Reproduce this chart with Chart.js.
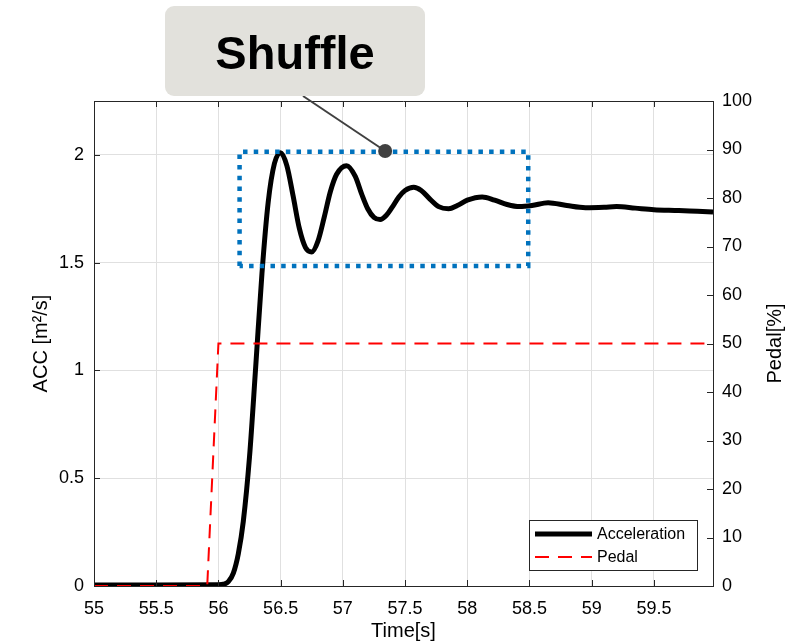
<!DOCTYPE html>
<html><head><meta charset="utf-8">
<script src="https://cdn.jsdelivr.net/npm/chart.js@4.4.1/dist/chart.umd.min.js"></script>
<style>html,body{margin:0;padding:0;background:#fff}#wrap{width:802px;height:644px}</style>
</head><body><div id="wrap"><canvas id="c" width="802" height="644"></canvas></div>
<script>
// ---- data ----
const accTime = [55, 55.5, 56.0, 56.04, 56.08, 56.12, 56.16, 56.2, 56.25, 56.3, 56.35, 56.4, 56.45, 56.5, 56.55, 56.6, 56.65, 56.7, 56.75, 56.8, 56.85, 56.9, 56.95, 57.03, 57.1, 57.15, 57.2, 57.25, 57.3, 57.35, 57.4, 57.45, 57.5, 57.57, 57.63, 57.7, 57.77, 57.85, 57.92, 58.0, 58.12, 58.22, 58.32, 58.42, 58.52, 58.65, 58.8, 58.95, 59.1, 59.2, 59.35, 59.5, 59.7, 59.85, 59.975];
const accValues = [0.005, 0.005, 0.006, 0.008, 0.02, 0.06, 0.15, 0.3, 0.6, 1.02, 1.45, 1.78, 1.96, 2.01, 1.95, 1.81, 1.66, 1.57, 1.55, 1.6, 1.71, 1.83, 1.91, 1.95, 1.9, 1.82, 1.75, 1.71, 1.70, 1.72, 1.76, 1.805, 1.835, 1.85, 1.835, 1.795, 1.76, 1.75, 1.765, 1.79, 1.805, 1.79, 1.77, 1.76, 1.765, 1.778, 1.765, 1.755, 1.757, 1.76, 1.753, 1.746, 1.742, 1.738, 1.735];
const pedalTime = [55, 55.91, 56.0, 59.975];
const pedalValues = [0, 0, 50, 50];
const xTicks = [55, 55.5, 56, 56.5, 57, 57.5, 58, 58.5, 59, 59.5];
const accTicks = [0, 0.5, 1, 1.5, 2];
const pedalTicks = [0, 10, 20, 30, 40, 50, 60, 70, 80, 90, 100];
const boxTime = [56.17, 56.17, 58.49, 58.49, 56.17];
const boxAcc = [1.485, 2.015, 2.015, 1.485, 1.485];
const calloutPoint = [57.34, 2.018];
const calloutText = 'Shuffle';
const seriesNames = ['Acceleration', 'Pedal'];
const xTitle = 'Time[s]';
const leftTitle = 'ACC [m²/s]';
const rightTitle = 'Pedal[%]';

const FONT = "'Liberation Sans', Arial, Helvetica, sans-serif";
Chart.defaults.font.family = FONT;
Chart.defaults.color = '#000';

const fmt = v => String(Number(v.toFixed(3)));
const setTicks = arr => s => { s.ticks = arr.map(v => ({value: v})); };

const axesPlugin = {
  id: 'axesExtras',
  afterDatasetsDraw(chart) {
    const {ctx, chartArea: a, scales} = chart;
    const x = scales.x, yL = scales.yL, yR = scales.yR;
    ctx.save();
    ctx.strokeStyle = '#262626';
    ctx.lineWidth = 1;
    ctx.beginPath();
    ctx.moveTo(a.left, Math.round(a.top) + 0.5); ctx.lineTo(a.right, Math.round(a.top) + 0.5);
    ctx.stroke();
    const T = 6;
    ctx.beginPath();
    x.ticks.forEach(t => {
      const px = Math.round(x.getPixelForValue(t.value)) + 0.5;
      ctx.moveTo(px, a.bottom); ctx.lineTo(px, a.bottom - T);
      ctx.moveTo(px, a.top); ctx.lineTo(px, a.top + T);
    });
    yL.ticks.forEach(t => {
      const py = Math.round(yL.getPixelForValue(t.value)) + 0.5;
      ctx.moveTo(a.left, py); ctx.lineTo(a.left + T, py);
    });
    yR.ticks.forEach(t => {
      const py = Math.round(yR.getPixelForValue(t.value)) + 0.5;
      ctx.moveTo(a.right, py); ctx.lineTo(a.right - T, py);
    });
    ctx.stroke();

    // right axis title (reads bottom to top)
    ctx.fillStyle = '#000';
    ctx.font = '20px ' + FONT;
    ctx.textAlign = 'center';
    ctx.textBaseline = 'middle';
    ctx.translate(775, (a.top + a.bottom) / 2);
    ctx.rotate(-Math.PI / 2);
    ctx.fillText(rightTitle, 0, 0);
    ctx.restore();

    // legend
    ctx.save();
    const lw = 168, lh = 50;
    const lx = a.right - 16 - lw, ly = a.bottom - 16 - lh;
    ctx.fillStyle = '#fff';
    ctx.fillRect(lx, ly, lw, lh);
    ctx.strokeStyle = '#262626';
    ctx.lineWidth = 1;
    ctx.strokeRect(Math.round(lx) + 0.5, Math.round(ly) + 0.5, lw, lh);
    const ds = chart.data.datasets;
    const rows = [ds[0], ds[1]];
    rows.forEach((d, i) => {
      const yy = ly + 14 + i * 23;
      ctx.beginPath();
      ctx.strokeStyle = d.borderColor;
      ctx.lineWidth = d.borderWidth;
      ctx.setLineDash(d.borderDash || []);
      ctx.moveTo(lx + 6, yy); ctx.lineTo(lx + 63, yy);
      ctx.stroke();
      ctx.setLineDash([]);
      ctx.fillStyle = '#000';
      ctx.font = '16px ' + FONT;
      ctx.textAlign = 'left';
      ctx.textBaseline = 'middle';
      ctx.fillText(d.label, lx + 68, yy + 1);
    });
    ctx.restore();

    // callout
    ctx.save();
    const cx = x.getPixelForValue(calloutPoint[0]);
    const cy = yL.getPixelForValue(calloutPoint[1]);
    const bx = 165, by = 6, bw = 260, bh = 90, r = 9;
    ctx.strokeStyle = '#404040';
    ctx.lineWidth = 2;
    ctx.beginPath();
    ctx.moveTo(303, by + bh); ctx.lineTo(cx, cy);
    ctx.stroke();
    ctx.fillStyle = '#404040';
    ctx.beginPath(); ctx.arc(cx, cy, 7, 0, Math.PI * 2); ctx.fill();
    ctx.fillStyle = '#E2E1DC';
    ctx.beginPath();
    ctx.roundRect(bx, by, bw, bh, r);
    ctx.fill();
    ctx.fillStyle = '#000';
    ctx.font = 'bold 47px ' + FONT;
    ctx.textAlign = 'center';
    ctx.textBaseline = 'alphabetic';
    ctx.fillText(calloutText, bx + bw / 2, 69);
    ctx.restore();
  }
};

new Chart(document.getElementById('c'), {
  type: 'line',
  data: {
    datasets: [
      {label: seriesNames[0], data: accTime.map((t, i) => ({x: t, y: accValues[i]})), yAxisID: 'yL',
       borderColor: '#000', borderWidth: 5, pointRadius: 0, cubicInterpolationMode: 'monotone', order: 2},
      {label: seriesNames[1], data: pedalTime.map((t, i) => ({x: t, y: pedalValues[i]})), yAxisID: 'yR',
       borderColor: '#FF0000', borderWidth: 2, borderDash: [14, 9], pointRadius: 0, tension: 0, order: 1},
      {label: 'box', data: boxTime.map((t, i) => ({x: t, y: boxAcc[i]})), yAxisID: 'yL',
       borderColor: '#0072BD', borderWidth: 4.5, borderDash: [4.5, 6.2], borderCapStyle: 'butt', pointRadius: 0, tension: 0, order: 0}
    ]
  },
  options: {
    responsive: false, animation: false, devicePixelRatio: 1,
    layout: {padding: {top: 101, left: 0, right: 0, bottom: 0}},
    plugins: {legend: {display: false}, tooltip: {enabled: false}},
    scales: {
      x: {
        type: 'linear', min: 55, max: 59.975,
        afterBuildTicks: setTicks(xTicks),
        afterFit: s => { s.height = 58; },
        grid: {color: '#e0e0e0', drawTicks: false},
        border: {color: '#262626', width: 1},
        ticks: {font: {size: 18}, color: '#000', padding: 12, callback: fmt, maxRotation: 0, autoSkip: false},
        title: {display: true, text: xTitle, font: {size: 20}, color: '#000', padding: {top: 0, bottom: 1}}
      },
      yL: {
        type: 'linear', position: 'left', min: 0, max: 2.25,
        afterBuildTicks: setTicks(accTicks),
        afterFit: s => { s.width = 94; },
        grid: {color: '#e0e0e0', drawTicks: false},
        border: {color: '#262626', width: 1},
        ticks: {font: {size: 18}, color: '#000', padding: 10, callback: fmt},
        title: {display: true, text: leftTitle, font: {size: 20}, color: '#000', padding: {top: 29, bottom: 0}}
      },
      yR: {
        type: 'linear', position: 'right', min: 0, max: 100,
        afterBuildTicks: setTicks(pedalTicks),
        afterFit: s => { s.width = 89; },
        grid: {display: false, drawTicks: false},
        border: {color: '#262626', width: 1},
        ticks: {font: {size: 18}, color: '#000', padding: 9, callback: fmt}
      }
    }
  },
  plugins: [axesPlugin]
});
</script>
</body></html>
